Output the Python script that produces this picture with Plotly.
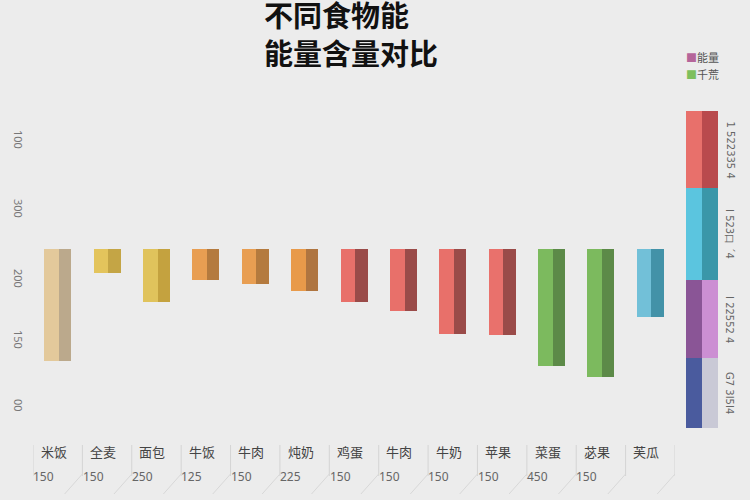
import plotly.graph_objects as go

# food categories along the bottom
foods = ["米饭", "全麦", "面包", "牛饭", "牛肉", "炖奶", "鸡蛋",
         "牛肉", "牛奶", "苹果", "菜蛋", "苾果", "芙瓜"]
# energy bars (hang down from the baseline)
energy = [112, 24, 53, 31, 35, 42, 53, 62, 85, 86, 117, 128, 68]
# serving sizes printed under the labels (last one missing)
portions = ["150", "150", "250", "125", "150", "225", "150",
            "150", "150", "150", "450", "150", ""]
front_colors = ["#e3c99b", "#e3c45c", "#e0c35c", "#e89e52", "#e89e52", "#e89a4a", "#e8706a",
                "#e8706a", "#e8706a", "#e9716c", "#7cba5e", "#7cba5e", "#72c0d8"]
side_colors = ["#bba98c", "#c4a545", "#c4a23f", "#b47a3e", "#b47a3e", "#af7540", "#9a4b49",
               "#9a4b49", "#9a4b49", "#9a4b49", "#5c8a48", "#5c8a48", "#4392a8"]

# y axis ticks (odd labels, as in the picture)
tick_vals = [-108, -39, 31, 92, 158]
tick_text = ["100", "300", "200", "150", "00"]

# side strip segments, bottom to top
strip_vals = [70, 78, 92, 77]
strip_left = ["#4a5b9e", "#8a5596", "#5bc5df", "#e8706b"]
strip_right = ["#c9c9d6", "#cc8fd3", "#3a97a9", "#b94a4d"]
strip_text = ["G7 3I5I4", "I 22552 4", "I 523口 ˊ4", "1 522335 4"]

legend_names = ["能量", "千荒"]
legend_colors = ["#b5659a", "#7dbf5d"]

xs = list(range(len(foods)))
fig = go.Figure()

# 3d-ish bars: lighter front face plus darker side
fig.add_trace(go.Bar(x=xs, y=energy, marker=dict(color=front_colors, line=dict(width=0)),
                     offset=-0.273, width=0.297, showlegend=False, hoverinfo="skip"))
fig.add_trace(go.Bar(x=xs, y=energy, marker=dict(color=side_colors, line=dict(width=0)),
                     offset=0.024, width=0.25, showlegend=False, hoverinfo="skip"))

# right strip as bars on a second axis, each one sitting on the previous
acc = 0
for v, cl, cr in zip(strip_vals, strip_left, strip_right):
    fig.add_trace(go.Bar(x=[0, 1], y=[v, v], base=[acc, acc],
                         marker=dict(color=[cl, cr], line=dict(width=0)),
                         width=1, xaxis="x2", yaxis="y2", showlegend=False, hoverinfo="skip"))
    acc += v

W, H = 750, 500
L, R, T, B = 33, 5, 110, 70
pw = W - L - R
ph = H - T - B

def px_x(p):
    return (p - L) / pw

def px_y(p):
    return (H - B - p) / ph

annotations = []
# two-line title
annotations.append(dict(text="<b>不同食物能<br>能量含量对比</b>", x=px_x(262), y=px_y(33),
                        xref="paper", yref="paper", xanchor="left", yanchor="middle", align="left",
                        showarrow=False, font=dict(size=29, color="#111", family="Noto Sans CJK SC")))

# category labels and portion numbers
for i, (f, p) in enumerate(zip(foods, portions)):
    annotations.append(dict(text=f, x=i, xshift=-4, y=px_y(463), xref="x", yref="paper",
                            showarrow=False, font=dict(size=13, color="#444", family="Noto Sans CJK SC")))
    if p:
        annotations.append(dict(text=p, x=i, xshift=-14, y=px_y(487), xref="x", yref="paper",
                                showarrow=False, font=dict(size=12, color="#666", family="Noto Sans")))

# legend
for k, (n, c) in enumerate(zip(legend_names, legend_colors)):
    annotations.append(dict(text="<span style='color:%s'>■</span>%s" % (c, n),
                            x=px_x(684), y=px_y(57 + 17 * k), xref="paper", yref="paper",
                            xanchor="left", yanchor="middle", showarrow=False,
                            font=dict(size=11, color="#555", family="Noto Sans CJK SC")))

# strip labels
acc = 0
for v, t in zip(strip_vals, strip_text):
    annotations.append(dict(text=t, x=1.5, y=acc + v / 2, xref="x2", yref="y2", xshift=12,
                            textangle=90, showarrow=False,
                            font=dict(size=10, color="#666", family="DejaVu Sans")))
    acc += v

# separators between category boxes
shapes = []
for i in range(len(foods) + 1):
    shapes.append(dict(type="line", xref="x", yref="paper", x0=i - 0.5, x1=i - 0.5,
                       y0=px_y(445), y1=px_y(476), line=dict(color="#d4d4d4", width=1)))
    shapes.append(dict(type="line", xref="x", yref="paper", x0=i - 0.5, x1=i - 0.86,
                       y0=px_y(474), y1=px_y(494), line=dict(color="#d8d8d8", width=1)))

fig.update_layout(
    width=W, height=H,
    margin=dict(l=L, r=R, t=T, b=B),
    paper_bgcolor="#ececec", plot_bgcolor="#ececec",
    barmode="overlay", bargap=0,
    xaxis=dict(domain=[0, 642 / pw], range=[-0.5, 12.5], showticklabels=False,
               showgrid=False, zeroline=False, showline=False, automargin=False),
    yaxis=dict(range=[181, -139], tickvals=tick_vals, ticktext=tick_text, tickangle=90,
               showgrid=False, zeroline=False, showline=False, ticklabelstandoff=7,
               automargin=False,
               tickfont=dict(size=11, color="#777", family="Noto Sans")),
    xaxis2=dict(domain=[px_x(686), px_x(718)], range=[-0.5, 1.5], anchor="y2",
                showticklabels=False, showgrid=False, zeroline=False, automargin=False),
    yaxis2=dict(domain=[0, 1], range=[-2, 318], anchor="x2", showticklabels=False,
                showgrid=False, zeroline=False, automargin=False),
    annotations=annotations,
    shapes=shapes,
)
# drop the page's default body margin so the figure sits in the window corner
fig.write_html("out.html", config={"displayModeBar": False},
               post_script="document.body.style.margin='0';document.body.style.background='#ececec';")
